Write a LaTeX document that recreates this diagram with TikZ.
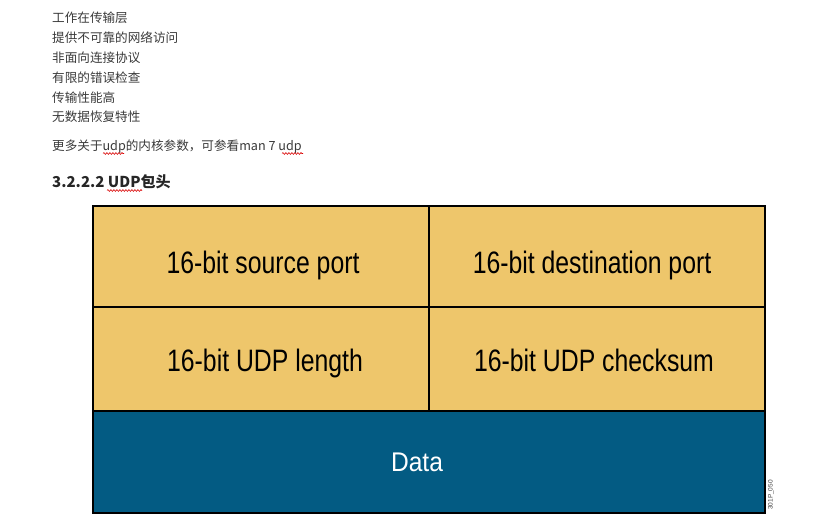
\documentclass[tikz,border=0pt]{standalone}
\usepackage{fontspec}
\setmainfont{Noto Sans CJK SC}
\newfontfamily\diagfont{Liberation Sans}
\usetikzlibrary{decorations.pathmorphing}
\definecolor{gold}{HTML}{EEC66B}
\definecolor{petrol}{HTML}{035B83}
\definecolor{bodytext}{HTML}{3A3A3A}
\tikzset{
  cell/.style={draw=black, line width=1.6pt, fill=gold, minimum width=336pt, inner sep=0pt},
  datacell/.style={draw=black, line width=1.6pt, fill=petrol, minimum width=672pt, minimum height=102pt, inner sep=0pt},
  celltext/.style={anchor=base, inner sep=0pt, font=\diagfont\fontsize{31}{31}\selectfont, text=black},
  datatext/.style={anchor=base, inner sep=0pt, font=\diagfont\fontsize{27}{27}\selectfont, text=white},
  line/.style={anchor=west, inner sep=0pt, font=\fontsize{12.6}{12.6}\selectfont, text=bodytext},
  head/.style={anchor=west, inner sep=0pt, font=\bfseries\fontsize{15}{15}\selectfont, text=black!85},
  spell/.style={draw=red!85!black, line width=0.6pt, decorate, decoration={snake, amplitude=0.9pt, segment length=3pt}},
  tag/.style={rotate=90, inner sep=0pt, font=\diagfont\fontsize{6.5}{6.5}\selectfont, text=black!75}
}
\begin{document}
\begin{tikzpicture}[x=1pt,y=-1pt]
\useasboundingbox[fill=white] (0,0) rectangle (835,532);
% text lines
\node[line] (l1) at (52,18) {工作在传输层};
\node[line] (l2) at (52,38) {提供不可靠的网络访问};
\node[line] (l3) at (52,58) {非面向连接协议};
\node[line] (l4) at (52,78) {有限的错误检查};
\node[line] (l5) at (52,98) {传输性能高};
\node[line] (l6) at (52,117) {无数据恢复特性};
\node[line] (l7) at (52,147) {更多关于udp的内核参数，可参看man 7 udp};
\node[head] (h1) at (52,182) {3.2.2.2 UDP包头};
% spell-check underlines
\coordinate (u1a) at (103,153.5); \coordinate (u1b) at (124,153.5);
\coordinate (u2a) at (282,153.5); \coordinate (u2b) at (303,153.5);
\coordinate (u3a) at (107,190.5); \coordinate (u3b) at (142,190.5);
\draw[spell] (u1a) -- (u1b);
\draw[spell] (u2a) -- (u2b);
\draw[spell] (u3a) -- (u3b);
% header cells
\node[cell, minimum height=101pt] (src) at (261,256.5) {};
\node[cell, minimum height=101pt] (dst) at (597,256.5) {};
\node[cell, minimum height=104pt] (len) at (261,359) {};
\node[cell, minimum height=104pt] (chk) at (597,359) {};
\node[datacell] (data) at (429,462) {};
% labels
\node[celltext] (tsrc) at (263,273) {\scalebox{0.8}[1]{16-bit source port}};
\node[celltext] (tdst) at (592,273) {\scalebox{0.8}[1]{16-bit destination port}};
\node[celltext] (tlen) at (265,371) {\scalebox{0.8}[1]{16-bit UDP length}};
\node[celltext] (tchk) at (594,371) {\scalebox{0.8}[1]{16-bit UDP checksum}};
\node[datatext] (tdata) at (417,471) {\scalebox{0.91}[1]{Data}};
\node[tag] (code) at (771,495) {301P\_050};
\end{tikzpicture}
\end{document}
